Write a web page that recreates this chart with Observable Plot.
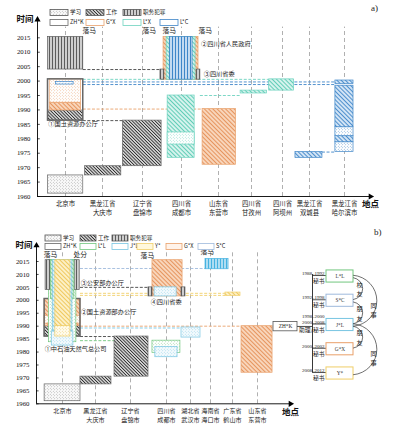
<!DOCTYPE html>
<html><head><meta charset="utf-8">
<script src="https://cdn.jsdelivr.net/npm/d3@7"></script>
<script src="https://cdn.jsdelivr.net/npm/@observablehq/plot@0.6"></script>
<style>
body{margin:0;background:#fff;}
.panel{position:relative;width:393px;height:215px;overflow:visible;}
.tag{position:absolute;font:9px "Liberation Serif",serif;color:#222;}
</style></head><body>
<svg width="0" height="0" style="position:absolute"><defs id="pat"></defs></svg>
<div class="panel" id="pa"></div>
<div class="panel" id="pb"></div>
<script>
// ================= DATA =================
const yearTicks = [1960,1965,1970,1975,1980,1985,1990,1995,2000,2005,2010,2015];
const kinds = ["学习","工作","职务犯罪"];

// ---- panel a ----
const placesA = ["北京市","黑龙江省\n大庆市","辽宁省\n盘锦市","四川省\n成都市","山东省\n东营市","四川省\n甘孜州","四川省\n阿坝州","黑龙江省\n双城县","黑龙江省\n哈尔滨市"];
const peopleA = ["ZH*K","G*X","L*X","L*C"];
// [place index, person, activity, from, to]
const spellsA = [
  [0,"ZH*K","学习",1961,1967.3],
  [1,"ZH*K","工作",1967.3,1970.5],
  [2,"ZH*K","工作",1970.5,1986.3],
  [0,"ZH*K","工作",1986.3,1989.8],
  [0,"G*X","工作",1989.8,1992.5],
  [0,"G*X","学习",1992.5,2000.6],
  [0,"L*C","学习",1998.8,1999.7],
  [0,"ZH*K","任期",1986.3,2000.6],
  [0,"ZH*K","职务犯罪",2004,2015.3],
  [3,"L*X","工作",1973.4,1995],
  [3,"L*X","学习",1978,1982.2],
  [3,"G*X","工作",2000.5,2015.3],
  [3,"L*X","工作",2000.5,2015.3],
  [3,"L*C","职务犯罪",2000.5,2015.3],
  [3,"ZH*K","职务犯罪",2000.5,2004],
  [3,"ZH*K","职务犯罪",2000.5,2004],
  [4,"G*X","工作",1971,1990.3],
  [5,"L*X","工作",1995.7,1996.7],
  [6,"L*X","工作",1996.7,2000.6],
  [7,"L*C","工作",1973.4,1975.4],
  [8,"L*C","学习",1975.4,1978.8],
  [8,"L*C","工作",1978.8,1980.9],
  [8,"L*C","学习",1980.9,1984],
  [8,"L*C","工作",1984,1998.4],
  [8,"L*C","工作",1999,2000.2]
];
// [person, year, from place, to place]
const linksA = [
  ["ZH*K",1986.3,0,2],["ZH*K",2004,0,3],["G*X",1990.3,0,4],["L*X",2000.6,0,6],
  ["L*C",1999.7,0,8],["L*C",1998.8,0,8],["L*X",1995,3,5],["L*C",1975.4,7,8]
];
const fallsA = [["落马",0,2017.3],["落马",3,2017.3],["落马",3,2017.3],["落马",3,2017.3]];
const officesA = [["①国土资源办公厅",0,1985],["②四川省人民政府",3,2013],["③四川省委",3,2002.6]];

// ---- panel b ----
const placesB = ["北京市","黑龙江省\n大庆市","辽宁省\n盘锦市","四川省\n成都市","湖北省\n武汉市","海南省\n海口市","广东省\n鹤山市","山东省\n东营市"];
const peopleB = ["ZH*K","L*L","J*L","Y*","G*X","S*C"];
const spellsB = [
  [0,"ZH*K","学习",1961,1967.5],
  [1,"ZH*K","工作",1967.5,1970.5],
  [2,"ZH*K","工作",1970.5,1986],
  [3,"L*L","学习",1979.7,1984.4],
  [3,"J*L","学习",1978,1982],
  [4,"J*L","学习",1985.6,1989.5],
  [0,"ZH*K","工作",1986,1990],
  [0,"G*X","工作",1990,2000.5],
  [0,"G*X","学习",1991,1994],
  [0,"ZH*K","任期",1986,2000.5],
  [0,"L*L","学习",1983.8,2015.5],
  [0,"J*L","学习",1982.5,1988],
  [0,"ZH*K","职务犯罪",2004,2015.5],
  [0,"ZH*K","职务犯罪",2004,2015.5],
  [0,"L*L","工作",2000.5,2015.5],
  [0,"J*L","工作",1988,2015.5],
  [0,"Y*","学习",1986,1990],
  [0,"Y*","工作",1990,2015.5],
  [3,"G*X","工作",2001.5,2015.5],
  [3,"J*L","学习",2001.5,2005],
  [3,"ZH*K","职务犯罪",2001.5,2005],
  [3,"ZH*K","职务犯罪",2001.5,2005],
  [5,"S*C","职务犯罪",2012,2016],
  [6,"Y*","工作",2001.7,2003],
  [7,"G*X","工作",1972,1990]
];
const linksB = [
  ["S*C",2012.3,0,5],["ZH*K",2005,0,3],["Y*",2002.7,0,6],["Y*",2001.9,0,6],
  ["G*X",1990,0,7],["J*L",1989.3,0,4],["ZH*K",1986,0,2],["L*L",1984.4,0,3]
];
const fallsB = [["落马",0,2017.7],["处分",0,2017.7],["落马",3,2017.3],["落马",5,2018.8]];
const officesB = [["①中石油天然气总公司",0,1981],["②国土资源部办公厅",0,1995.3],["③公安部办公厅",0,2006.5],["④四川省委",3,1999.2]];

// ---- relation diagram (panel b, right) ----
const boss = "ZH*K";
const secretaries = ["L*L","S*C","J*L","G*X","Y*"];
const terms = [["1988–1992"],["1992–1998"],["1998–2000","2000–2008"],["2000–2002"],["2008–2012"]];
const roles = ["秘书","秘书","助理/秘书","秘书","秘书"];
const ties = [["L*L","S*C","校友"],["S*C","J*L","朋友"],["L*L","J*L","同事"],["J*L","G*X","朋友"],["J*L","Y*","同事"]];

// ================= STYLE / LAYOUT =================
const CN = '"Noto Sans CJK SC","Noto Sans",sans-serif';
const NUM = '"Liberation Serif","DejaVu Serif",serif';
const styles = {
  "ZH*K":{stroke:"#666",line:"#262626",bg:"#ffffff",dot:"#8c8c8c",dotBg:"#fafafa",crime:"#5c5c5c",crimeBg:"#d4d4d4",sp:2.3,lw:1.1},
  "G*X":{stroke:"#E9A06A",line:"#E48D55",bg:"#F8D5BA",dot:"#E9A06A",dotBg:"#fff"},
  "L*X":{stroke:"#6ED3BF",line:"#55C8B1",bg:"#D5F3ED",dot:"#6ED3BF",dotBg:"#fff"},
  "L*C":{stroke:"#3F86C8",line:"#3F86C8",bg:"#D2E4F5",dot:"#3F86C8",dotBg:"#fff",crime:"#3F86C8",crimeBg:"#CADFF4"},
  "L*L":{stroke:"#72C67E",line:"#72C67E",bg:"#DDF2E0",dot:"#72C67E",dotBg:"#fff"},
  "J*L":{stroke:"#78C5E2",line:"#78C5E2",bg:"#DFF2F9",dot:"#86CBE6",dotBg:"#F3FAFD"},
  "Y*":{stroke:"#F0CE68",line:"#EDC452",bg:"#FCF0C6",dot:"#EDC452",dotBg:"#FFFCEE"},
  "S*C":{stroke:"#9FBADC",line:"#4FB5E0",bg:"#B8E2F4",dot:"#9FBADC",dotBg:"#fff",crime:"#45B2E0",crimeBg:"#B3E0F3"}
};
const pid = k => k.replace(/[^A-Za-z]/g,"");
const kindKey = {"学习":"study","工作":"work","职务犯罪":"crime"};
// patterns
const defs = d3.select("#pat");
for (const [k,s] of Object.entries(styles)) {
  const sp = s.sp || 3, lw = s.lw || 0.9;
  const w = defs.append("pattern").attr("id",pid(k)+"-work").attr("patternUnits","userSpaceOnUse")
    .attr("width",sp).attr("height",sp).attr("patternTransform","rotate(-45)");
  w.append("rect").attr("width",sp).attr("height",sp).attr("fill",s.bg);
  w.append("line").attr("x1",sp/2).attr("x2",sp/2).attr("y1",-1).attr("y2",sp+1).attr("stroke",s.line).attr("stroke-width",lw);
  const d = defs.append("pattern").attr("id",pid(k)+"-study").attr("patternUnits","userSpaceOnUse").attr("width",3).attr("height",3);
  d.append("rect").attr("width",3).attr("height",3).attr("fill",s.dotBg);
  d.append("circle").attr("cx",0.75).attr("cy",0.75).attr("r",0.45).attr("fill",s.dot);
  d.append("circle").attr("cx",2.25).attr("cy",2.25).attr("r",0.45).attr("fill",s.dot);
  const c = defs.append("pattern").attr("id",pid(k)+"-crime").attr("patternUnits","userSpaceOnUse").attr("width",3).attr("height",3);
  c.append("rect").attr("width",3).attr("height",3).attr("fill",s.crimeBg || s.bg);
  c.append("line").attr("x1",1.5).attr("x2",1.5).attr("y1",0).attr("y2",3).attr("stroke",s.crime || s.line).attr("stroke-width",1.1);
}
const fillOf = (who,kind) => kind === "任期" ? "none" : `url(#${pid(who)}-${kindKey[kind]})`;
const strokeOf = (who,kind) => kind === "职务犯罪" ? (styles[who].crime || styles[who].stroke) : styles[who].stroke;

// bar extents inside each place column (column units)
const shapeA = [[-0.5,0.48],[-0.47,0.47],[-0.49,0.49],[-0.5,0.48],[-0.45,0.42],[-0.45,0.42],[-0.27,0.22],[-0.5,0.48],[-0.5,0.48],
  [-0.355,0.355],[-0.355,0.355],[-0.46,0.46],[-0.38,0.38],[-0.3,0.3],[-0.54,-0.44],[0.41,0.51],[-0.43,0.53],[-0.33,0.5],
  [-0.43,0.43],[-0.52,0.37],[-0.26,0.26],[-0.26,0.26],[-0.26,0.26],[-0.26,0.26],[-0.26,0.26]];
const shapeB = [[-0.55,0.545],[-0.456,0.456],[-0.457,0.5],[-0.39,0.58],[-0.31,0.46],[-0.375,0.5],[-0.55,0.545],[-0.55,0.545],
  [-0.55,0.545],[-0.55,0.545],[-0.42,0.42],[-0.33,0.33],[-0.52,-0.37],[0.37,0.52],[-0.36,0.36],[-0.3,0.3],[-0.22,0.24],[-0.22,0.24],
  [-0.39,0.67],[-0.33,0.42],[-0.5,-0.39],[0.625,0.79],[-0.25,0.82],[-0.32,0.32],[-0.64,0.73]];
const fallOffA = [0.46,-1.0,-0.49,0.46];
const officeOffA = [-0.49,0.53,0.6];
const fallOffB = [-0.58,0.33,-0.72,-0.5];
const officeOffB = [-0.55,0.55,0.55,-0.44];

function rectRows(spells, shapes){
  return spells.map(([p,who,kind,from,to],i)=>({x1:p+shapes[i][0],x2:p+shapes[i][1],y1:from,y2:to,
    fill:fillOf(who,kind),stroke:strokeOf(who,kind),sw:kind==="任期"?1.5:0.7}));
}
function linkRows(spells, shapes, links){
  const e = new Map();
  spells.forEach(([p],i)=>{const c=e.get(p)||[Infinity,-Infinity];e.set(p,[Math.min(c[0],shapes[i][0]),Math.max(c[1],shapes[i][1])]);});
  return links.map(([who,y,f,t])=>({x1:f+e.get(f)[1],x2:t+e.get(t)[0],y,stroke:who==="ZH*K"?"#444":styles[who].stroke}));
}

function panel(cfg){
  const {places, spells, shapes, links, falls, fallOff, offices, officeOff, xDom, xRange, yRange, top, yTop, fs} = cfg;
  const x0 = xDom[0], x9 = xDom[xDom.length-1];
  return Plot.plot({
    width:393, height:215,
    marginLeft:xRange[0], marginRight:393-xRange[xRange.length-1], marginTop:top, marginBottom:215-yRange[0],
    x:{type:"linear", domain:xDom, range:xRange, axis:null},
    y:{domain:[1960,2015], range:yRange, axis:null},
    color:{type:"identity"},
    style:{fontFamily:CN, fontSize:"7px", background:"transparent", overflow:"visible"},
    marks:[
      Plot.ruleX(places.map((d,i)=>i), {y1:1960, y2:yTop-2.6, stroke:"#9c9c9c", strokeWidth:0.8, strokeDasharray:"4,3"}),
      Plot.ruleY(linkRows(spells,shapes,links), {x1:"x1", x2:"x2", y:"y", stroke:"stroke", strokeWidth:0.9, strokeDasharray:"3,1.6"}),
      Plot.rect(rectRows(spells,shapes), {x1:"x1", x2:"x2", y1:"y1", y2:"y2", fill:"fill", stroke:"stroke", strokeWidth:"sw"}),
      Plot.ruleY(yearTicks, {x1:x0, x2:x0+0.08, stroke:"#000", strokeWidth:0.7}),
      Plot.ruleX([x0], {y1:1960, y2:yTop, stroke:"#000", strokeWidth:0.9}),
      Plot.ruleY([1960], {x1:x0, x2:x9, stroke:"#000", strokeWidth:0.9}),
      Plot.dot([0], {x:x0, y:yTop, symbol:"triangle", r:2.3, fill:"#000"}),
      Plot.dot([0], {x:x9, y:1960, symbol:"triangle", r:2.3, fill:"#000", rotate:90}),
      Plot.axisY(yearTicks, {tickSize:0, tickPadding:7, label:null, tickFormat:d=>String(d), fontSize:6.8, fontFamily:NUM, fill:"#111"}),
      Plot.text(["时间"], {x:x0, y:yTop, dx:-12.5, fontSize:8.5, fontWeight:"bold", fill:"#111"}),
      Plot.text(["地点"], {x:x9, y:1960, dy:8, fontSize:8.5, fontWeight:"bold", fill:"#111"}),
      Plot.text(places, {x:(d,i)=>i, y:1960, dy:fs.dy, lineAnchor:"top", lineHeight:1.45, fontSize:fs.place, fill:"#222"}),
      Plot.text(falls, {x:(d,i)=>d[1]+fallOff[i], y:d=>d[2], text:d=>d[0], textAnchor:"start", fontSize:6.8, fill:"#222"}),
      Plot.text(offices, {x:(d,i)=>d[1]+officeOff[i], y:d=>d[2], text:d=>d[0], textAnchor:"start", fontSize:6.2, fill:"#222"})
    ]
  });
}

function legend(el, rows){
  const svg = d3.select(el).append("svg").attr("width",393).attr("height",45)
    .style("position","absolute").style("left","0px").style("top","0px").style("overflow","visible");
  for (const it of rows){
    svg.append("rect").attr("x",it.x).attr("y",it.y-3).attr("width",it.w).attr("height",6)
      .attr("fill",it.fill).attr("stroke",it.stroke).attr("stroke-width",0.8);
    svg.append("text").attr("x",it.x+it.w+2).attr("y",it.y).attr("dy","0.35em")
      .attr("font-size",5.6).attr("font-family",CN).attr("fill","#222").text(it.label);
  }
}

// ---------- panel a ----------
const pa = document.getElementById("pa");
pa.append(panel({places:placesA, spells:spellsA, shapes:shapeA, links:linksA, falls:fallsA, fallOff:fallOffA,
  offices:officesA, officeOff:officeOffA,
  xDom:[-0.8,0,1,2,3,4,5,6,7,8,8.75], xRange:[37,65,102,142,181,218,251,282,309,344,370],
  yRange:[196,37.3], top:19, yTop:2021.3, fs:{dy:2.8, place:6.4}}));
legend(pa, [
  ...kinds.map((k,i)=>({x:[50,86,123][i], y:12.5, w:18, fill:`url(#ZHK-${kindKey[k]})`, stroke:"#555", label:k})),
  ...peopleA.map((p,i)=>({x:[50,86,123,160][i], y:22.5, w:18, fill:"#fff", stroke:styles[p].stroke, label:p}))
]);
const ta = document.createElement("span"); ta.className="tag"; ta.style.left="371px"; ta.style.top="3px"; ta.textContent="a)"; pa.append(ta);

// ---------- panel b ----------
const pb = document.getElementById("pb");
pb.append(panel({places:placesB, spells:spellsB, shapes:shapeB, links:linksB, falls:fallsB, fallOff:fallOffB,
  offices:officesB, officeOff:officeOffB,
  xDom:[-0.8,0,1,2,3,4,5,6,7,8.6], xRange:[36,62,95,130,166,190,210,232,257,290],
  yRange:[188.3,46], top:30, yTop:2021.2, fs:{dy:3.4, place:6.1}}));
legend(pb, [
  ...kinds.map((k,i)=>({x:[45,80,112][i], y:23, w:16, fill:`url(#ZHK-${kindKey[k]})`, stroke:"#555", label:k})),
  ...peopleB.map((p,i)=>({x:[45,80,112,137,166,198][i], y:31.5, w:16, fill:p==="Y*"?"#FFF8DC":(p==="G*X"?"#FFF3EA":"#fff"), stroke:styles[p].stroke, label:p}))
]);
const tb = document.createElement("span"); tb.className="tag"; tb.style.left="374px"; tb.style.top="12px"; tb.textContent="b)"; pb.append(tb);

// relation diagram
const U = 24.25;
const bx1 = 61, bx2 = 88, trunk = 47;
const sec = secretaries.map((s,i)=>({s,i}));
const idx = s => secretaries.indexOf(s);
const tieRows = ties.map(([a,b,l])=>({i:idx(a), j:idx(b), l, span:idx(b)-idx(a)}));
const diag = Plot.plot({
  width:128, height:135, margin:0,
  x:{domain:[0,128], range:[0,128], axis:null},
  y:{domain:[-21/U, 114/U], range:[0,135], axis:null},
  color:{type:"identity"},
  style:{fontFamily:CN, fontSize:"6px", background:"transparent", overflow:"visible"},
  marks:[
    Plot.ruleX([0], {x:trunk, y1:-0.08, y2:3.96, stroke:"#222", strokeWidth:0.9}),
    Plot.ruleY(sec, {y:d=>d.i-0.04, x1:trunk, x2:bx1, stroke:"#222", strokeWidth:0.8}),
    Plot.ruleY([0], {y:2.06, x1:32, x2:trunk, stroke:"#222", strokeWidth:0.8}),
    Plot.rect([boss], {x1:8, x2:32, y1:1.88, y2:2.26, fill:"#fff", stroke:"#555", strokeWidth:0.8}),
    Plot.text([boss], {x:20, y:2.07, fontSize:5.3, fontFamily:NUM, fill:"#222"}),
    Plot.rect(sec, {x1:bx1, x2:bx2, y1:d=>d.i-0.25, y2:d=>d.i+0.25, fill:"#fff", stroke:d=>styles[d.s].stroke, strokeWidth:1}),
    Plot.text(sec, {x:(bx1+bx2)/2, y:"i", text:"s", fontSize:5.3, fontFamily:NUM, fill:"#333"}),
    Plot.text(sec, {x:bx1-2, y:"i", dy:-1.5, text:d=>terms[d.i].join("\n"), textAnchor:"end", lineAnchor:"bottom", lineHeight:1.2, fontSize:5, fontFamily:NUM, fill:"#222"}),
    Plot.text(sec, {x:bx1-2, y:"i", dy:4.8, text:d=>roles[d.i], textAnchor:"end", fontSize:5.8, fill:"#222"}),
    Plot.arrow(tieRows.filter(d=>d.span===1), {x1:bx2, y1:d=>d.i+0.05, x2:bx2, y2:d=>d.j-0.05, bend:80, headLength:0, stroke:"#333", strokeWidth:0.7}),
    Plot.arrow(tieRows.filter(d=>d.span===2), {x1:bx2, y1:d=>d.i-0.05, x2:bx2, y2:d=>d.j+0.05, bend:85, headLength:0, stroke:"#333", strokeWidth:0.7}),
    Plot.text(tieRows, {x:d=>bx2+(d.span===1?6:20), y:d=>(d.i+d.j)/2+(d.span===2?0.35:0), text:d=>d.l.split("").join("\n"), lineHeight:1.5, fontSize:6.2, fill:"#222"})
  ]
});
diag.style.position="absolute"; diag.style.left="265px"; diag.style.top="40px";
pb.append(diag);
</script>
</body></html>
